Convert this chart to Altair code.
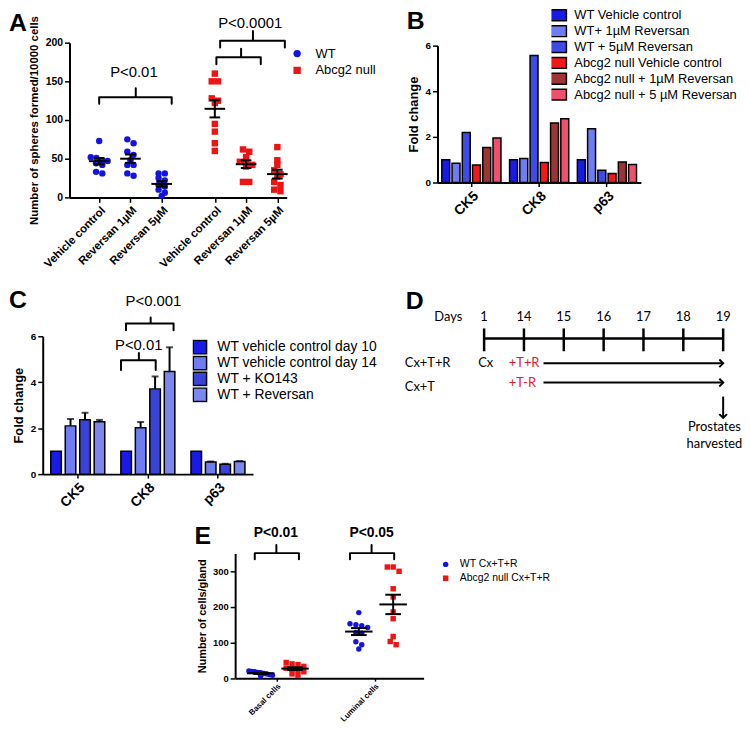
import altair as alt
import numpy as np
import pandas as pd

# ======================= values =======================
# Panel A : spheres per 10000 cells
A_CATS = ["Vehicle control", "Reversan 1µM", "Reversan 5µM"]
A_GROUPS = ["WT", "Abcg2 null"]
A_WT_VEH = [73, 52, 51, 48, 47, 44, 42, 33, 31]
A_WT_R1 = [75, 70, 59, 55, 48, 42, 42, 31, 28]
A_WT_R5 = [31, 31, 25, 22, 16, 14, 10, 6, 2]
A_KO_VEH = [160, 150, 150, 128, 125, 122, 95, 85, 70, 60]
A_KO_R1 = [62, 59, 52, 46, 45, 42, 40, 20, 20]
A_KO_R5 = [65, 48, 42, 35, 30, 27, 20, 16, 10, 8]
A_PTEXT = ["P<0.01", "P<0.0001"]
A_YTITLE = "Number of spheres formed/10000 cells"

# Panel B : fold change
B_GENES = ["CK5", "CK8", "p63"]
B_SERIES = ["WT Vehicle control", "WT+ 1µM Reversan", "WT + 5µM Reversan",
            "Abcg2 null Vehicle control", "Abcg2 null + 1µM Reversan",
            "Abcg2 null + 5 µM Reversan"]
B_WT_VEH = [1.00, 1.00, 1.00]
B_WT_R1 = [0.84, 1.05, 2.36]
B_WT_R5 = [2.19, 5.57, 0.54]
B_KO_VEH = [0.77, 0.88, 0.40]
B_KO_R1 = [1.54, 2.61, 0.90]
B_KO_R5 = [1.95, 2.80, 0.79]

# Panel C : fold change with error bars (upper end)
C_GENES = ["CK5", "CK8", "p63"]
C_SERIES = ["WT vehicle control day 10", "WT vehicle control day 14",
            "WT + KO143", "WT + Reversan"]
C_D10 = [1.00, 1.00, 1.00]
C_D14 = [2.10, 2.02, 0.53]
C_KO = [2.37, 3.71, 0.43]
C_REV = [2.28, 4.47, 0.55]
C_D10_TOP = [1.00, 1.00, 1.00]
C_D14_TOP = [2.40, 2.27, 0.55]
C_KO_TOP = [2.67, 4.25, 0.45]
C_REV_TOP = [2.36, 5.52, 0.57]
C_PTEXT = ["P<0.01", "P<0.001"]

# Panel D : schedule
D_DAYS = ["1", "14", "15", "16", "17", "18", "19"]
D_ROWS = ["Cx+T+R", "Cx+T"]
D_TREAT = ["+T+R", "+T-R"]
D_START = "Cx"
D_END = ["Prostates", "harvested"]

# Panel E : cells per gland
E_CELLS = ["Basal cells", "Luminal cells"]
E_GROUPS = ["WT Cx+T+R", "Abcg2 null Cx+T+R"]
E_WT_BASAL = [20, 19, 18, 16, 15, 13, 12, 10, 8, 6]
E_KO_BASAL = [44, 40, 38, 33, 28, 25, 22, 18, 12, 8]
E_WT_LUM = [184, 153, 150, 147, 142, 128, 126, 102, 94, 82]
E_KO_LUM = [312, 312, 300, 251, 228, 186, 167, 117, 103, 94]
E_PTEXT = ["P<0.01", "P<0.05"]

LETTERS = ["A", "B", "C", "D", "E"]

# ============================== layout / style ==============================
M = 8            # page margin
W, H = 740, 720  # canvas
FONT = "Liberation Sans"
DFONT = "Lato"
BLUE = "#1414e0"
RED = "#ee1414"
DRED = "#e0192f"
B_COLORS = ["#1a1ae8", "#6f7cf2", "#3f4be6", "#f01818", "#9e3434", "#f0506e"]
C_COLORS = ["#1a1ae8", "#6f7cf2", "#3a43d6", "#7b86ee"]
RECT = "M-1.33,-0.92L1.33,-0.92L1.33,0.92L-1.33,0.92Z"


def px(v):
    return v - M


def spread(vals, binh, gap, maxhalf):
    """Deterministic dot-plot layout: values in the same bin sit side by side."""
    vals = np.asarray(vals, dtype=float)
    offs = np.zeros(len(vals))
    order = np.argsort(-vals, kind="stable")
    bins = []
    for i in order:
        if bins and vals[bins[-1][0]] - vals[i] <= binh:
            bins[-1].append(i)
        else:
            bins.append([i])
    for b in bins:
        k = len(b)
        if k > 1:
            half = min((k - 1) / 2 * gap, maxhalf)
            for j, i in enumerate(b):
                offs[i] = -half + 2 * half * j / (k - 1)
    return offs


def label_expr(positions, labels):
    expr = f"'{labels[-1]}'"
    for i in range(len(positions) - 2, -1, -1):
        mid = (positions[i] + positions[i + 1]) / 2
        expr = f"datum.value < {mid} ? '{labels[i]}' : " + expr
    return expr


def stats_layers(df, xs, ys, key, half_mean, half_cap):
    base = alt.Chart(df).transform_aggregate(
        m="mean(v)", se="stderr(v)", groupby=[key]
    ).transform_calculate(
        lo="datum.m - datum.se", hi="datum.m + datum.se",
        ml=f"datum.{key} - {half_mean}", mr=f"datum.{key} + {half_mean}",
        cl=f"datum.{key} - {half_cap}", cr=f"datum.{key} + {half_cap}",
    )
    st = dict(color="black", strokeWidth=2)
    mean = base.mark_rule(**st).encode(
        x=alt.X("ml:Q", scale=xs, axis=None), x2="mr:Q",
        y=alt.Y("m:Q", scale=ys, axis=None))
    sem = base.mark_rule(**st).encode(
        x=alt.X(f"{key}:Q", scale=xs, axis=None),
        y=alt.Y("lo:Q", scale=ys, axis=None), y2="hi:Q")
    lo = base.mark_rule(**st).encode(
        x=alt.X("cl:Q", scale=xs, axis=None), x2="cr:Q",
        y=alt.Y("lo:Q", scale=ys, axis=None))
    hi = base.mark_rule(**st).encode(
        x=alt.X("cl:Q", scale=xs, axis=None), x2="cr:Q",
        y=alt.Y("hi:Q", scale=ys, axis=None))
    return [mean, sem, lo, hi]


def bracket_layers(brs, texts, xs, ys, fsize, fweight):
    rows = []
    for bi, (x0, x1, xc, yl, yb, yt) in enumerate(brs):
        pts = [(x0, yl), (x0, yb), (xc, yb), (xc, yt), (xc, yb), (x1, yb), (x1, yl)]
        for k, (x, y) in enumerate(pts):
            rows.append({"b": bi, "k": k, "x": x, "y": y})
    line = alt.Chart(pd.DataFrame(rows)).mark_line(
        color="black", strokeWidth=2, strokeJoin="round", strokeCap="round"
    ).encode(
        x=alt.X("x:Q", scale=xs, axis=None), y=alt.Y("y:Q", scale=ys, axis=None),
        detail="b:N", order="k:Q")
    txt = alt.Chart(pd.DataFrame(texts, columns=["t", "x", "y"])).mark_text(
        fontSize=fsize, fontWeight=fweight, baseline="alphabetic", color="black", font=FONT
    ).encode(
        x=alt.X("x:Q", scale=xs, axis=None), y=alt.Y("y:Q", scale=ys, axis=None),
        text="t:N")
    return [line, txt]


layers = []

# ================================= Panel A =================================
A_POS = [1.0, 2.0, 3.0, 4.7, 5.7, 6.7]
rows = []
for n, vals in enumerate([A_WT_VEH, A_WT_R1, A_WT_R5, A_KO_VEH, A_KO_R1, A_KO_R5]):
    pos = A_POS[n]
    for v, o in zip(vals, spread(vals, 5, 0.2, 0.27)):
        rows.append({"grp": A_GROUPS[n // 3], "cat": A_CATS[n % 3], "pos": pos,
                     "v": v, "xj": pos + o})
dfA = pd.DataFrame(rows)

xA = alt.Scale(domain=[0.05, 7.0], range=[px(70), px(289)], nice=False, zero=False)
yA = alt.Scale(domain=[0, 200], range=[px(196), px(40)], nice=False, zero=False)
legA = alt.Legend(orient="none", legendX=px(293), legendY=px(42.5), title=None,
                  labelFontSize=13, symbolSize=55, labelOffset=12, rowPadding=0,
                  clipHeight=17, symbolStrokeWidth=0)
ptsA = alt.Chart(dfA).mark_point(filled=True, opacity=1, size=42, strokeWidth=0).encode(
    x=alt.X("xj:Q", scale=xA, axis=alt.Axis(
        orient="bottom", offset=px(196) - H, values=A_POS,
        labelExpr=label_expr(A_POS, A_CATS * 2), labelAngle=-45,
        labelFontSize=11.5, title=None, labelOverlap=False)),
    y=alt.Y("v:Q", scale=yA, axis=alt.Axis(
        orient="left", offset=-px(70), values=[0, 50, 100, 150, 200],
        title=A_YTITLE, titleFontSize=11.5, labelFontSize=10.5, titlePadding=6)),
    color=alt.Color("grp:N", scale=alt.Scale(domain=A_GROUPS, range=[BLUE, RED]), legend=legA),
    shape=alt.Shape("grp:N", scale=alt.Scale(domain=A_GROUPS, range=["circle", "square"]), legend=legA),
)
A_BRACKETS = [(1.0, 3.32, 2.17, 121, 129.5, 141),
              (4.75, 6.17, 5.54, 172, 181, 192),
              (4.87, 6.94, 5.92, 193.6, 202.6, 215)]
A_TEXTPOS = [(2.11, 155), (5.83, 219)]
layers += [ptsA, *stats_layers(dfA, xA, yA, "pos", 0.33, 0.17),
           *bracket_layers(A_BRACKETS, [(t, x, y) for t, (x, y) in zip(A_PTEXT, A_TEXTPOS)],
                           xA, yA, 15, "normal")]

# ================================= Panel B =================================
dfB = pd.DataFrame([{"gene": g, "series": s, "v": v}
                    for s, vals in zip(B_SERIES, [B_WT_VEH, B_WT_R1, B_WT_R5,
                                                  B_KO_VEH, B_KO_R1, B_KO_R5])
                    for g, v in zip(B_GENES, vals)])
xB = alt.Scale(domain=B_GENES, range=[px(441), px(646)], paddingInner=0.093, paddingOuter=0.0465)
xoB = alt.Scale(domain=B_SERIES, paddingInner=0.226, paddingOuter=0.113)
yB = alt.Scale(domain=[0, 6], range=[px(181), px(43)], nice=False)
barsB = alt.Chart(dfB).mark_bar(stroke="black", strokeWidth=1.5).encode(
    x=alt.X("gene:N", scale=xB, axis=alt.Axis(
        orient="bottom", offset=px(181) - H, labelAngle=-45, labelFontSize=14,
        title=None, tickSize=4)),
    xOffset=alt.XOffset("series:N", scale=xoB),
    y=alt.Y("v:Q", scale=yB, axis=alt.Axis(
        orient="left", offset=-px(441), values=[0, 2, 4, 6], title="Fold change",
        titleFontSize=13, labelFontSize=10, titlePadding=5)),
    color=alt.Color("series:N", scale=alt.Scale(domain=B_SERIES, range=B_COLORS),
                    legend=alt.Legend(orient="none", legendX=px(556), legendY=-3.5, title=None,
                                      symbolType=RECT, symbolSize=144,
                                      symbolStrokeColor="black", symbolStrokeWidth=1.5,
                                      labelFontSize=13, labelOffset=9, rowPadding=0,
                                      clipHeight=15.8, labelLimit=300)),
    stroke=alt.value("black"),
)
layers.append(barsB)

# ================================= Panel C =================================
dfC = pd.DataFrame([{"gene": g, "series": s, "v": v, "top": t}
                    for s, vals, tops in zip(C_SERIES, [C_D10, C_D14, C_KO, C_REV],
                                             [C_D10_TOP, C_D14_TOP, C_KO_TOP, C_REV_TOP])
                    for g, v, t in zip(C_GENES, vals, tops)])
xC = alt.Scale(domain=C_GENES, range=[px(43), px(255)], paddingInner=0.174, paddingOuter=0.087)
xoC = alt.Scale(domain=C_SERIES, paddingInner=0.27, paddingOuter=0.135)
yC = alt.Scale(domain=[0, 6], range=[px(475), px(336)], nice=False)
barsC = alt.Chart(dfC).mark_bar(stroke="black", strokeWidth=1.5).encode(
    x=alt.X("gene:N", scale=xC, axis=alt.Axis(
        orient="bottom", offset=px(475) - H, labelAngle=-45, labelFontSize=14,
        title=None, tickSize=4)),
    xOffset=alt.XOffset("series:N", scale=xoC),
    y=alt.Y("v:Q", scale=yC, axis=alt.Axis(
        orient="left", offset=-px(43), values=[0, 2, 4, 6], title="Fold change",
        titleFontSize=13, labelFontSize=10, titlePadding=5)),
    color=alt.Color("series:N", scale=alt.Scale(domain=C_SERIES, range=C_COLORS),
                    legend=alt.Legend(orient="none", legendX=px(194), legendY=px(339), title=None,
                                      symbolType="square", symbolSize=180,
                                      symbolStrokeColor="black", symbolStrokeWidth=1.5,
                                      labelFontSize=14, labelOffset=10, rowPadding=0,
                                      clipHeight=16, labelLimit=300)),
    stroke=alt.value("black"),
)
errBase = alt.Chart(dfC).transform_filter("datum.top > datum.v")
errC = errBase.mark_rule(color="black", strokeWidth=2).encode(
    x=alt.X("gene:N", scale=xC, axis=None),
    xOffset=alt.XOffset("series:N", scale=xoC),
    y=alt.Y("v:Q", scale=yC, axis=None), y2="top:Q")
capC = errBase.mark_tick(color="black", orient="horizontal", size=7, thickness=2).encode(
    x=alt.X("gene:N", scale=xC, axis=None),
    xOffset=alt.XOffset("series:N", scale=xoC),
    y=alt.Y("top:Q", scale=yC, axis=None))
layers += [barsC, errC, capC]

xCq = alt.Scale(domain=[0, 3], range=[px(43), px(255)], nice=False, zero=False)
C_BRACKETS = [(1.117, 1.612, 1.372, 4.53, 4.96, 5.27),
              (1.188, 1.867, 1.54, 6.26, 6.56, 6.82)]
C_TEXTPOS = [(1.37, 5.4), (1.58, 7.3)]
layers += bracket_layers(C_BRACKETS, [(t, x, y) for t, (x, y) in zip(C_PTEXT, C_TEXTPOS)],
                         xCq, yC, 15, "normal")

# ================================= Panel D =================================
xD = alt.Scale(domain=[0, 6], range=[px(488), px(729)], nice=False, zero=False)
yD = alt.Scale(domain=[0, 6], range=[px(317), px(445)], nice=False, zero=False)


def dx(f):
    return alt.X(f, scale=xD, axis=None)


def dy(f):
    return alt.Y(f, scale=yD, axis=None)


dfDays = pd.DataFrame({"idx": range(len(D_DAYS)), "day": D_DAYS,
                       "lane": 0.0, "t0": 0.52, "t1": 1.6})
txtD = dict(font=DFONT, fontSize=13, baseline="middle", color="black")
d_days = alt.Chart(dfDays).mark_text(**txtD).encode(x=dx("idx:Q"), y=dy("lane:Q"), text="day:N")
d_dayslab = alt.Chart(pd.DataFrame({"t": ["Days"], "x": [-0.9], "y": [0.0]})).mark_text(**txtD).encode(
    x=dx("x:Q"), y=dy("y:Q"), text="t:N")
d_line = alt.Chart(pd.DataFrame({"x0": [0], "x1": [6], "y": [1.0]})).mark_rule(
    color="black", strokeWidth=2.5).encode(x=dx("x0:Q"), x2="x1:Q", y=dy("y:Q"))
d_ticks = alt.Chart(dfDays).mark_rule(color="black", strokeWidth=2.5).encode(
    x=dx("idx:Q"), y=dy("t0:Q"), y2="t1:Q")
d_rows = alt.Chart(pd.DataFrame({"t": D_ROWS, "x": [-1.99, -1.99], "y": [2.17, 3.27]})).mark_text(
    align="left", **txtD).encode(x=dx("x:Q"), y=dy("y:Q"), text="t:N")
d_cx = alt.Chart(pd.DataFrame({"t": [D_START], "x": [-0.15], "y": [2.17]})).mark_text(
    align="left", **txtD).encode(x=dx("x:Q"), y=dy("y:Q"), text="t:N")
d_treat = alt.Chart(pd.DataFrame({"t": D_TREAT, "x": [0.62, 0.62], "y": [2.17, 3.08]})).mark_text(
    align="left", font=DFONT, fontSize=13, baseline="middle", color=DRED).encode(
    x=dx("x:Q"), y=dy("y:Q"), text="t:N")
dfArr = pd.DataFrame({"x0": [1.49, 1.49], "x1": [6.0, 6.0], "y": [2.17, 3.08]})
d_arr = alt.Chart(dfArr).mark_rule(color="black", strokeWidth=2).encode(
    x=dx("x0:Q"), x2="x1:Q", y=dy("y:Q"))
d_head = alt.Chart(dfArr).mark_point(shape="M-1,-1L0,0L-1,1", filled=False, color="black",
                                     strokeWidth=2, size=60, opacity=1).encode(
    x=dx("x1:Q"), y=dy("y:Q"))
dfDown = pd.DataFrame({"x": [6.0], "y0": [3.74], "y1": [4.75]})
d_down = alt.Chart(dfDown).mark_rule(color="black", strokeWidth=2).encode(
    x=dx("x:Q"), y=dy("y0:Q"), y2="y1:Q")
d_downhead = alt.Chart(dfDown).mark_point(shape="M-1,-1L0,0L1,-1", filled=False, color="black",
                                          strokeWidth=2, size=60, opacity=1).encode(
    x=dx("x:Q"), y=dy("y1:Q"))
d_end = alt.Chart(pd.DataFrame({"t": D_END, "x": [5.78, 5.78], "y": [5.2, 6.0]})).mark_text(
    align="center", **txtD).encode(x=dx("x:Q"), y=dy("y:Q"), text="t:N")
layers += [d_line, d_ticks, d_days, d_dayslab, d_rows, d_cx, d_treat,
           d_arr, d_head, d_down, d_downhead, d_end]

# ================================= Panel E =================================
E_XPOS = [1.0, 2.0]
E_SHIFT = [-0.16, 0.19]
rows = []
for ci, (wt, ko) in enumerate([(E_WT_BASAL, E_KO_BASAL), (E_WT_LUM, E_KO_LUM)]):
    for gi, vals in enumerate([wt, ko]):
        xc = E_XPOS[ci] + E_SHIFT[gi]
        for v, o in zip(vals, spread(vals, 12, 0.06, 0.12)):
            rows.append({"cell": E_CELLS[ci], "grp": E_GROUPS[gi], "xc": xc, "v": v, "xj": xc + o})
dfE = pd.DataFrame(rows)
E_AXIS_Y, E_TOP_Y = 680.7, 555
xE = alt.Scale(domain=[0.58, 2.5], range=[px(237), px(427)], nice=False, zero=False)
yE = alt.Scale(domain=[0, 350], range=[px(E_AXIS_Y), px(E_TOP_Y)], nice=False, zero=False)
legE = alt.Legend(orient="none", legendX=px(444), legendY=px(559), title=None,
                  labelFontSize=10.5, symbolSize=30, labelOffset=9, rowPadding=0,
                  clipHeight=14, symbolStrokeWidth=0)
ptsE = alt.Chart(dfE).mark_point(filled=True, opacity=1, size=30, strokeWidth=0).encode(
    x=alt.X("xj:Q", scale=xE, axis=alt.Axis(
        orient="bottom", offset=px(E_AXIS_Y) - H, values=E_XPOS,
        labelExpr=label_expr(E_XPOS, E_CELLS), labelAngle=-45, labelFontSize=8,
        title=None, labelOverlap=False, tickSize=3, labelPadding=1)),
    y=alt.Y("v:Q", scale=yE, axis=alt.Axis(
        orient="left", offset=-px(237), values=[0, 100, 200, 300],
        title="Number of cells/gland", titleFontSize=11, labelFontSize=9.5, titlePadding=5)),
    color=alt.Color("grp:N", scale=alt.Scale(domain=E_GROUPS, range=[BLUE, RED]), legend=legE),
    shape=alt.Shape("grp:N", scale=alt.Scale(domain=E_GROUPS, range=["circle", "square"]), legend=legE),
)
E_BRACKETS = [(0.78, 1.23, 1.0, 334, 351, 374),
              (1.75, 2.20, 1.97, 334, 351, 374)]
E_TEXTPOS = [(0.995, 395), (1.97, 395)]
layers += [ptsE, *stats_layers(dfE, xE, yE, "xc", 0.14, 0.08),
           *bracket_layers(E_BRACKETS, [(t, x, y) for t, (x, y) in zip(E_PTEXT, E_TEXTPOS)],
                           xE, yE, 14, "bold")]

# ============================== panel letters ===============================
LETTER_AT = [(1, 20), (402, 18), (1, 300), (401, 301), (188, 537)]
layers += [alt.Chart(pd.DataFrame({"t": [l]})).mark_text(
    font=FONT, fontSize=25, fontWeight="bold", align="left", baseline="alphabetic",
    color="black").encode(text="t:N", x=alt.value(x), y=alt.value(y))
    for l, (x, y) in zip(LETTERS, LETTER_AT)]

chart = alt.layer(*layers).resolve_scale(
    x="independent", y="independent", color="independent", shape="independent",
    xOffset="independent",
).properties(
    width=W, height=H, padding=0, autosize=alt.AutoSizeParams(type="none")
).configure_view(stroke=None).configure_axis(
    grid=False, domainColor="black", domainWidth=2, tickColor="black", tickWidth=1.5,
    tickSize=5, labelColor="black", labelFont=FONT, labelFontWeight="bold",
    titleFont=FONT, titleFontWeight="bold", titleColor="black", labelPadding=2,
).configure_legend(labelFont=FONT, labelColor="black", padding=0)

chart.save("out.html", embed_options={"renderer": "svg", "actions": False})
